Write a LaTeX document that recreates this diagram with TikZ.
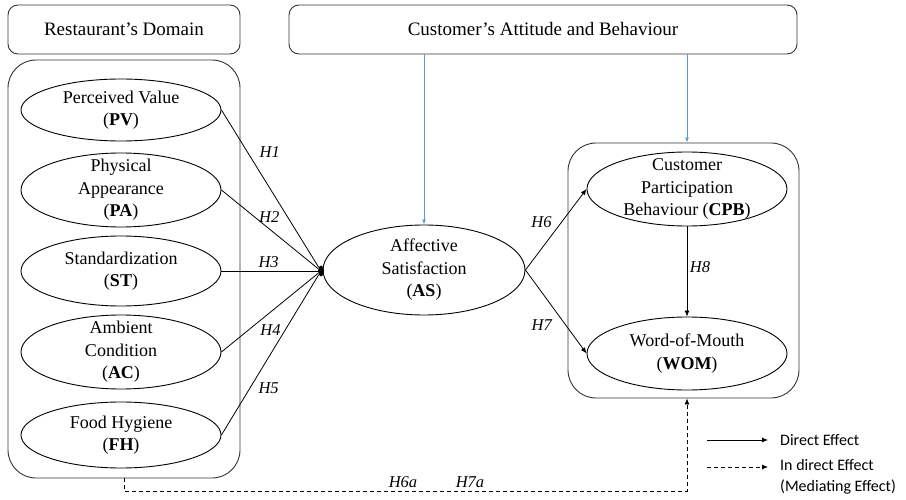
\documentclass[tikz,border=0pt]{standalone}
\usepackage{fontspec}
\setmainfont{Liberation Serif}
\newfontfamily\legendfont{Carlito}
\usetikzlibrary{shapes}
\usetikzlibrary{positioning}
\usetikzlibrary{arrows.meta}
\definecolor{linkblue}{HTML}{5B9BD5}
\tikzset{
    latent/.style = {ellipse, draw=black, line width=0.9pt, align=center, minimum width=200pt, minimum height=#1, inner xsep=0pt, inner ysep=-10pt},
    latent/.default = 74pt,
    titlebox/.style = {rectangle, rounded corners=10pt, draw=black!80, line width=0.9pt, minimum height=49pt, inner sep=0pt, font=\fontsize{19}{23}\selectfont},
    groupbox/.style = {rectangle, rounded corners=28pt, draw=black!80, line width=0.9pt, inner sep=0pt},
    hub/.style = {ellipse, fill=black, minimum width=6pt, minimum height=11pt, inner sep=0pt},
    hlab/.style = {font=\fontsize{16.5}{18}\selectfont\itshape, inner sep=0pt},
    legend/.style = {inner sep=0pt, font=\legendfont\fontsize{16}{21}\selectfont, align=left},
    edgen/.style = {-, line width=0.8pt, black},
    edgea/.style = {-{Latex[length=6pt,width=5pt]}, line width=0.8pt, black},
    edgeb/.style = {-{Latex[length=5pt,width=4pt]}, line width=0.9pt, linkblue},
    edged/.style = {-{Latex[length=6pt,width=5pt]}, line width=0.8pt, black, dash pattern=on 4pt off 3pt}
}

\begin{document}
\begin{tikzpicture}[x=1pt, y=-1pt, font=\fontsize{18}{22.5}\selectfont]
  \useasboundingbox (0,0) rectangle (906,500);
  % headings and groups
  \node[titlebox, minimum width=232pt] (rd) at (124,29.5) {Restaurant's Domain};
  \node[titlebox, minimum width=508pt] (cab) at (543,29.5) {Customer's Attitude and Behaviour};
  \node[groupbox, minimum width=232pt, minimum height=418pt] (lbox) at (124,269) {};
  \node[groupbox, minimum width=231pt, minimum height=255pt] (rbox) at (683.5,270.5) {};
  % constructs
  \node[latent=62pt] (pv) at (121,110) {Perceived Value\\(\textbf{PV})};
  \node[latent=74pt] (pa) at (121,190) {Physical\\Appearance\\(\textbf{PA})};
  \node[latent=70pt] (st) at (121,271) {Standardization\\(\textbf{ST})};
  \node[latent=74pt] (ac) at (121,352) {Ambient\\Condition\\(\textbf{AC})};
  \node[latent=66pt] (fh) at (121,435) {Food Hygiene\\(\textbf{FH})};
  \node[hub] (j) at (321,271) {};
  \node[latent=90pt, minimum width=202pt] (as) at (424,270) {Affective\\Satisfaction\\(\textbf{AS})};
  \node[latent=74pt] (cpb) at (687,189) {Customer\\Participation\\Behaviour (\textbf{CPB})};
  \node[latent=73pt] (wom) at (687,353.5) {Word-of-Mouth\\(\textbf{WOM})};

  \draw[edgen] (pv.east) -- node[hlab, pos=0.27, xshift=22pt] (h1) {H1} (j);
  \draw[edgen] (pa.east) -- node[hlab, pos=0.35, xshift=14pt] (h2) {H2} (j);
  \draw[edgen] (st.east) -- node[hlab, pos=0.49, yshift=9pt] (h3) {H3} (j);
  \draw[edgen] (ac.east) -- node[hlab, pos=0.28, xshift=22pt] (h4) {H4} (j);
  \draw[edgen] (fh.east) -- node[hlab, pos=0.29, xshift=19pt] (h5) {H5} (j);
  \draw[edgea] (as.east) -- node[hlab, pos=0.59, xshift=-20pt] (h6) {H6} (cpb.west);
  \draw[edgea] (as.east) -- node[hlab, pos=0.66, xshift=-24pt] (h7) {H7} (wom.west);
  \draw[edgea] (cpb.south) -- node[hlab, pos=0.45, xshift=13pt] (h8) {H8} (wom.north);
  \draw[edgeb] (cab.south -| as.north) -- (as.north);
  \draw[edgeb] (cab.south -| cpb.north) -- (rbox.north -| cpb.north);
  \draw[edged] (lbox.south) -- ++(0,13) -| (rbox.south -| wom.south);
  \node[hlab] (h6a) at (403,482) {H6a};
  \node[hlab] (h7a) at (470,482) {H7a};

  % legend
  \coordinate (d1) at (707,440);
  \coordinate (d2) at (768,440);
  \coordinate (i1) at (707,467);
  \coordinate (i2) at (768,467);
  \draw[edgea] (d1) -- (d2);
  \draw[edged] (i1) -- (i2);
  \node[legend, right=12pt of d2] (de) {Direct Effect};
  \node[legend, anchor=west] (ie) at (780,477) {In direct Effect\\(Mediating Effect)};
\end{tikzpicture}
\end{document}
